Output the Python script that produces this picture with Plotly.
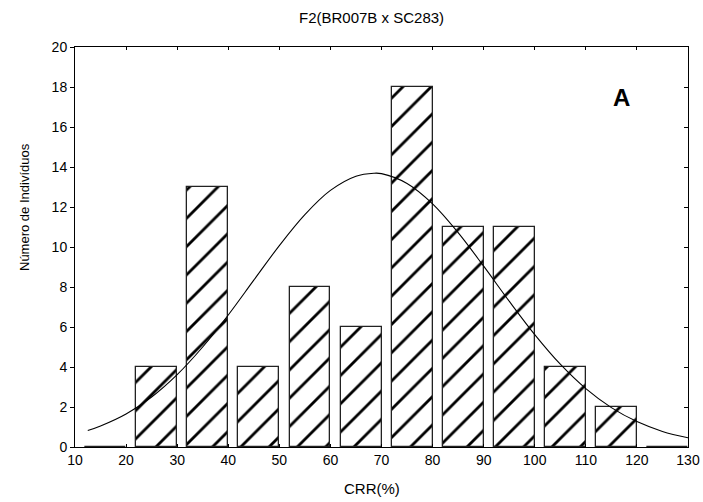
import plotly.graph_objects as go

# Histogram bins (lower edges) and counts
bin_lo = [10, 20, 30, 40, 50, 60, 70, 80, 90, 100, 110, 120]
counts = [0, 4, 13, 4, 8, 6, 18, 11, 11, 4, 2, 0]

# Fitted normal curve
curve_x = [12.5, 15, 20, 25, 30, 35, 40, 45, 50, 55, 60, 65, 68.5, 70, 75, 80, 85, 90, 95, 100, 105, 110, 115, 120, 125, 130]
curve_y = [0.82, 1.05, 1.65, 2.5, 3.62, 5.0, 6.6, 8.34, 10.07, 11.62, 12.83, 13.54, 13.69, 13.67, 13.18, 12.16, 10.72, 9.04, 7.29, 5.62, 4.14, 2.92, 1.97, 1.27, 0.78, 0.46]

title = "F2(BR007B x SC283)"
x_title = "CRR(%)"
y_title = "Número de Indivíduos"
panel = "A"

FONT = "Liberation Sans, Arial, sans-serif"

bar_x = [b + 6 for b in bin_lo]

fig = go.Figure()
fig.add_trace(go.Bar(
    x=bar_x, y=counts, width=8,
    marker=dict(color="white",
                line=dict(color="#222", width=1.3),
                pattern=dict(shape="/", fgcolor="black", bgcolor="white", fgopacity=1,
                             size=20, solidity=0.14)),
    showlegend=False, hoverinfo="skip",
))
fig.add_trace(go.Scatter(
    x=curve_x, y=curve_y, mode="lines", line=dict(color="black", width=1.1, shape="spline"),
    yaxis="y2", showlegend=False, hoverinfo="skip",
))

fig.update_layout(
    width=703, height=502,
    margin=dict(l=75, r=15, t=47, b=55, autoexpand=False),
    paper_bgcolor="white", plot_bgcolor="white",
    font=dict(family=FONT, size=14, color="black"),
    bargap=0,
    xaxis=dict(range=[10, 130], dtick=10, tick0=10, ticks="inside", ticklen=3, tickcolor="black",
               showline=True, linecolor="black", linewidth=1, mirror="ticks", showgrid=False,
               zeroline=False, tickfont=dict(size=14), automargin=False),
    yaxis=dict(range=[0, 20], dtick=2, ticks="outside", ticklen=4, tickcolor="black",
               showline=True, linecolor="black", linewidth=1, mirror=True, showgrid=False,
               zeroline=False, tickfont=dict(size=14), automargin=False),
    yaxis2=dict(range=[0, 20], dtick=2, overlaying="y", side="right", ticks="inside", ticklen=4,
                tickcolor="black", showticklabels=False, showgrid=False, zeroline=False,
                showline=False, automargin=False),
    annotations=[
        dict(text=title, xref="paper", yref="paper", x=0.4845, y=1.0 + 29/400, showarrow=False,
             font=dict(size=15), xanchor="center", yanchor="middle"),
        dict(text=x_title, xref="paper", yref="paper", x=0.4845, y=-41/400, showarrow=False,
             font=dict(size=15), xanchor="center", yanchor="middle"),
        dict(text=y_title, xref="paper", yref="paper", x=(24 - 75) / 613, y=0.6, showarrow=False,
             font=dict(size=13), textangle=-90, xanchor="center", yanchor="middle"),
        dict(text="<b>" + panel + "</b>", xref="x", yref="y", x=116.9, y=17.5, showarrow=False,
             font=dict(size=24), xanchor="center", yanchor="middle"),
    ],
)

fig.write_html("out.html")
